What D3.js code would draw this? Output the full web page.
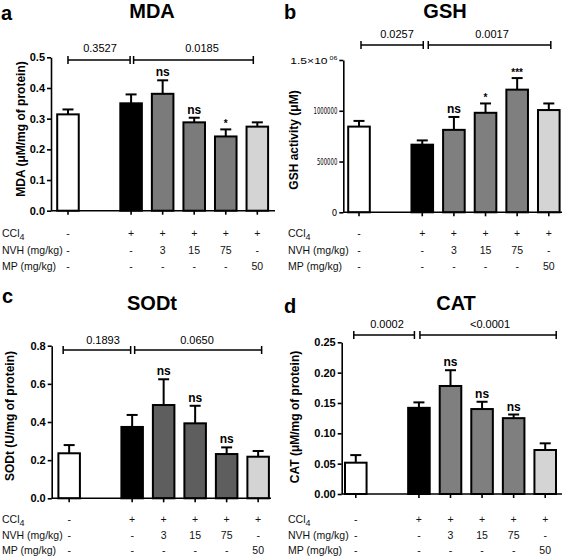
<!DOCTYPE html>
<html><head><meta charset="utf-8">
<script src="https://cdnjs.cloudflare.com/ajax/libs/d3/7.8.5/d3.min.js"></script>
<style>
html,body{margin:0;padding:0;background:#fff;}
svg{display:block;font-family:"Liberation Sans",Arial,sans-serif;}
</style></head>
<body>
<svg id="chart" width="567" height="557"></svg>
<script>
// ---------- DATA ----------
const groups = ["Control", "CCl4", "NVH 3", "NVH 15", "NVH 75", "MP 50"];
const slots = ["Control", "_gap", "CCl4", "NVH 3", "NVH 15", "NVH 75", "MP 50"];

const mdaMean = [0.314, 0.350, 0.381, 0.288, 0.242, 0.274];
const mdaSem  = [0.016, 0.029, 0.044, 0.015, 0.023, 0.014];
const mdaSig  = ["", "", "ns", "ns", "*", ""];
const mdaP    = ["0.3527", "0.0185"];
const mdaTicks = [0, 0.1, 0.2, 0.3, 0.4, 0.5];
const mdaTickLabels = ["0.0", "0.1", "0.2", "0.3", "0.4", "0.5"];

const gshMean = [844000, 666000, 812000, 980000, 1208000, 1007000];
const gshSem  = [56000, 42000, 127000, 92000, 114000, 65000];
const gshSig  = ["", "", "ns", "*", "***", ""];
const gshP    = ["0.0257", "0.0017"];
const gshTicks = [0, 500000, 1000000, 1500000];
const gshTickLabels = ["0", "500000", "1000000", "1.5×10^06"];

const sodMean = [0.236, 0.374, 0.489, 0.393, 0.232, 0.218];
const sodSem  = [0.043, 0.063, 0.135, 0.092, 0.035, 0.030];
const sodSig  = ["", "", "ns", "ns", "ns", ""];
const sodP    = ["0.1893", "0.0650"];
const sodTicks = [0, 0.2, 0.4, 0.6, 0.8];
const sodTickLabels = ["0.0", "0.2", "0.4", "0.6", "0.8"];

const catMean = [0.0516, 0.142, 0.178, 0.140, 0.125, 0.0725];
const catSem  = [0.0125, 0.009, 0.026, 0.012, 0.006, 0.011];
const catSig  = ["", "", "ns", "ns", "ns", ""];
const catP    = ["0.0002", "<0.0001"];
const catTicks = [0, 0.05, 0.10, 0.15, 0.20, 0.25];
const catTickLabels = ["0.00", "0.05", "0.10", "0.15", "0.20", "0.25"];

const rowLabels = ["CCl4", "NVH (mg/kg)", "MP (mg/kg)"];
const cclRow = ["-", "+", "+", "+", "+", "+"];
const nvhRow = ["-", "-", "3", "15", "75", "-"];
const mpRow  = ["-", "-", "-", "-", "-", "50"];

// ---------- LAYOUT ----------
const panels = [
  {letter:"a", title:"MDA", yLabel:"MDA (μM/mg of protein)", mean:mdaMean, sem:mdaSem, sig:mdaSig, p:mdaP,
   ticks:mdaTicks, tickLabels:mdaTickLabels, yMax:0.5, narrow:false,
   axisX:51, y0:210.7, yTop:57.3, band:[57.2,268.1], xEnd:275, gray:"#7b7b7b",
   titleX:152, titleY:18, letterX:1, letterY:20, ylabX:21, ylabY:129,
   brY:60, brL:[0,-1], brR:[2.5,-4], pX:[100,202], pY:52,
   rowX:2, rowY:[237,254,270]},
  {letter:"b", title:"GSH", yLabel:"GSH activity (μM)", mean:gshMean, sem:gshSem, sig:gshSig, p:gshP,
   ticks:gshTicks, tickLabels:gshTickLabels, yMax:1500000, narrow:true,
   axisX:343.3, y0:212.3, yTop:60, band:[348.2,559.6], xEnd:562, gray:"#7f7f7f",
   titleX:445, titleY:18, letterX:284, letterY:19, ylabX:294, ylabY:140,
   brY:45, brL:[2,1], brR:[6,2], pX:[397,492], pY:38,
   rowX:288, rowY:[237,254,270]},
  {letter:"c", title:"SODt", yLabel:"SODt (U/mg of protein)", mean:sodMean, sem:sodSem, sig:sodSig, p:sodP,
   ticks:sodTicks, tickLabels:sodTickLabels, yMax:0.8, narrow:false,
   axisX:51.7, y0:498.3, yTop:345.7, band:[58.4,268.9], xEnd:271, gray:"#5e5e5e",
   titleX:152, titleY:310, letterX:2, letterY:303, ylabX:10, ylabY:416,
   brY:350, brL:[-6,-1.5], brR:[2.5,3.5], pX:[103,197], pY:344,
   rowX:2, rowY:[523,538.5,554]},
  {letter:"d", title:"CAT", yLabel:"CAT (μM/mg of protein)", mean:catMean, sem:catSem, sig:catSig, p:catP,
   ticks:catTicks, tickLabels:catTickLabels, yMax:0.25, narrow:false,
   axisX:341.7, y0:494, yTop:342.3, band:[345,556], xEnd:562, gray:"#7f7f7f",
   titleX:456, titleY:310, letterX:284, letterY:313, ylabX:295, ylabY:417,
   brY:335, brL:[-2,-4.5], brR:[1,11], pX:[387,490], pY:328,
   rowX:288, rowY:[523,538.5,554]}
];

const svg = d3.select("#chart");
const fills = (p) => ["#ffffff", "#000000", p.gray, p.gray, p.gray, "#d4d4d4"];

panels.forEach(p => {
  const g = svg.append("g");
  const x = d3.scaleBand().domain(slots).range(p.band).paddingInner(0.317).paddingOuter(0);
  const y = d3.scaleLinear().domain([0, p.yMax]).range([p.y0, p.yTop]);
  const cx = k => x(k) + x.bandwidth() / 2;

  // letter + title
  g.append("text").attr("x", p.letterX).attr("y", p.letterY).attr("font-size", 20)
    .attr("font-weight", "bold").text(p.letter);
  g.append("text").attr("x", p.titleX).attr("y", p.titleY).attr("font-size", 20)
    .attr("font-weight", "bold").attr("text-anchor", "middle").text(p.title);

  // y label
  g.append("text").attr("transform", `translate(${p.ylabX},${p.ylabY}) rotate(-90)`)
    .attr("text-anchor", "middle").attr("dominant-baseline", "central")
    .attr("font-size", 12).attr("font-weight", "bold").text(p.yLabel);

  // bars
  const data = groups.map((k, i) => ({k, m: p.mean[i], s: p.sem[i], sig: p.sig[i], fill: fills(p)[i]}));
  g.selectAll("rect.bar").data(data).join("rect").attr("class", "bar")
    .attr("x", d => x(d.k)).attr("width", x.bandwidth())
    .attr("y", d => y(d.m)).attr("height", d => y(0) - y(d.m))
    .attr("fill", d => d.fill).attr("stroke", "#000").attr("stroke-width", 2);

  // error bars (upper only)
  const capW = 11;
  const eb = g.selectAll("g.eb").data(data).join("g").attr("class", "eb")
    .attr("stroke", "#000").attr("stroke-width", 2);
  eb.append("line").attr("x1", d => cx(d.k)).attr("x2", d => cx(d.k))
    .attr("y1", d => y(d.m)).attr("y2", d => y(d.m + d.s));
  eb.append("line").attr("x1", d => cx(d.k) - capW / 2).attr("x2", d => cx(d.k) + capW / 2)
    .attr("y1", d => y(d.m + d.s)).attr("y2", d => y(d.m + d.s));

  // significance marks
  g.selectAll("text.sig").data(data.filter(d => d.sig)).join("text").attr("class", "sig")
    .attr("x", d => cx(d.k)).attr("y", d => y(d.m + d.s) - (d.sig === "ns" ? 4 : 2))
    .attr("text-anchor", "middle").attr("font-weight", "bold")
    .attr("font-size", d => d.sig === "ns" ? 12 : 10).text(d => d.sig);

  // y axis
  const yAxis = d3.axisLeft(y).tickValues(p.ticks).tickFormat((d, i) => p.tickLabels[i])
    .tickSize(4).tickSizeOuter(0).tickPadding(2);
  const ya = g.append("g").attr("transform", `translate(${p.axisX},0)`).call(yAxis);
  ya.select(".domain").attr("stroke-width", 1.6);
  ya.selectAll(".tick line").attr("stroke-width", 1.6);
  if (p.narrow) {
    ya.selectAll(".tick text").attr("font-family", "'Liberation Sans Narrow','DejaVu Sans Condensed',sans-serif")
      .attr("font-size", 9.5).attr("fill", "#000")
      .each(function (d) {
        const lab = p.tickLabels[p.ticks.indexOf(d)];
        if (lab.length > 1 && lab.indexOf("^") < 0) {
          d3.select(this).attr("textLength", lab.length * 3.4).attr("lengthAdjust", "spacingAndGlyphs");
        }
      });
    ya.selectAll(".tick text").filter(d => d === p.yMax).each(function () {
      const t = d3.select(this);
      const lab = p.tickLabels[p.ticks.indexOf(p.yMax)];
      const [base, sup] = lab.split("^");
      t.text(null).attr("font-family", "'Liberation Sans',sans-serif").attr("font-size", 9.5)
        .attr("textLength", 47).attr("lengthAdjust", "spacingAndGlyphs");
      t.append("tspan").text(base);
      t.append("tspan").attr("font-size", 5.5).attr("dy", -4).text(" " + sup);
    });
  } else {
    ya.selectAll(".tick text").attr("font-size", 11).attr("font-weight", "bold").attr("fill", "#000");
  }

  // x axis
  const xAxis = d3.axisBottom(x).tickValues(groups).tickFormat("").tickSize(4).tickSizeOuter(0);
  const xa = g.append("g").attr("transform", `translate(0,${p.y0})`).call(xAxis);
  xa.select(".domain").remove();
  xa.selectAll(".tick line").attr("stroke-width", 1.6);
  g.append("line").attr("x1", p.axisX).attr("x2", p.xEnd).attr("y1", p.y0).attr("y2", p.y0)
    .attr("stroke", "#000").attr("stroke-width", 1.6);

  // p-value brackets
  const segs = [
    [cx(groups[0]) + p.brL[0], cx(groups[1]) + p.brL[1]],
    [cx(groups[1]) + p.brR[0], cx(groups[5]) + p.brR[1]]
  ];
  segs.forEach((s, i) => {
    const b = g.append("g").attr("stroke", "#000").attr("stroke-width", 1.5);
    b.append("line").attr("x1", s[0]).attr("x2", s[1]).attr("y1", p.brY).attr("y2", p.brY);
    b.append("line").attr("x1", s[0]).attr("x2", s[0]).attr("y1", p.brY - 4).attr("y2", p.brY + 4);
    b.append("line").attr("x1", s[1]).attr("x2", s[1]).attr("y1", p.brY - 4).attr("y2", p.brY + 4);
    g.append("text").attr("x", p.pX[i]).attr("y", p.pY).attr("text-anchor", "middle")
      .attr("font-size", 11).text(p.p[i]);
  });

  // treatment table
  const rows = [cclRow, nvhRow, mpRow];
  rowLabels.forEach((lab, r) => {
    const t = g.append("text").attr("x", p.rowX).attr("y", p.rowY[r]).attr("font-size", 10.5).attr("fill", "#111");
    if (lab === "CCl4") {
      t.append("tspan").text("CCl");
      t.append("tspan").attr("font-size", 9).attr("dy", 3).text("4");
    } else t.text(lab);
    g.selectAll(null).data(rows[r]).join("text")
      .attr("x", (d, i) => cx(groups[i])).attr("y", p.rowY[r])
      .attr("text-anchor", "middle").attr("font-size", 10.5).attr("fill", "#111").text(d => d);
  });
});
</script>
</body></html>
